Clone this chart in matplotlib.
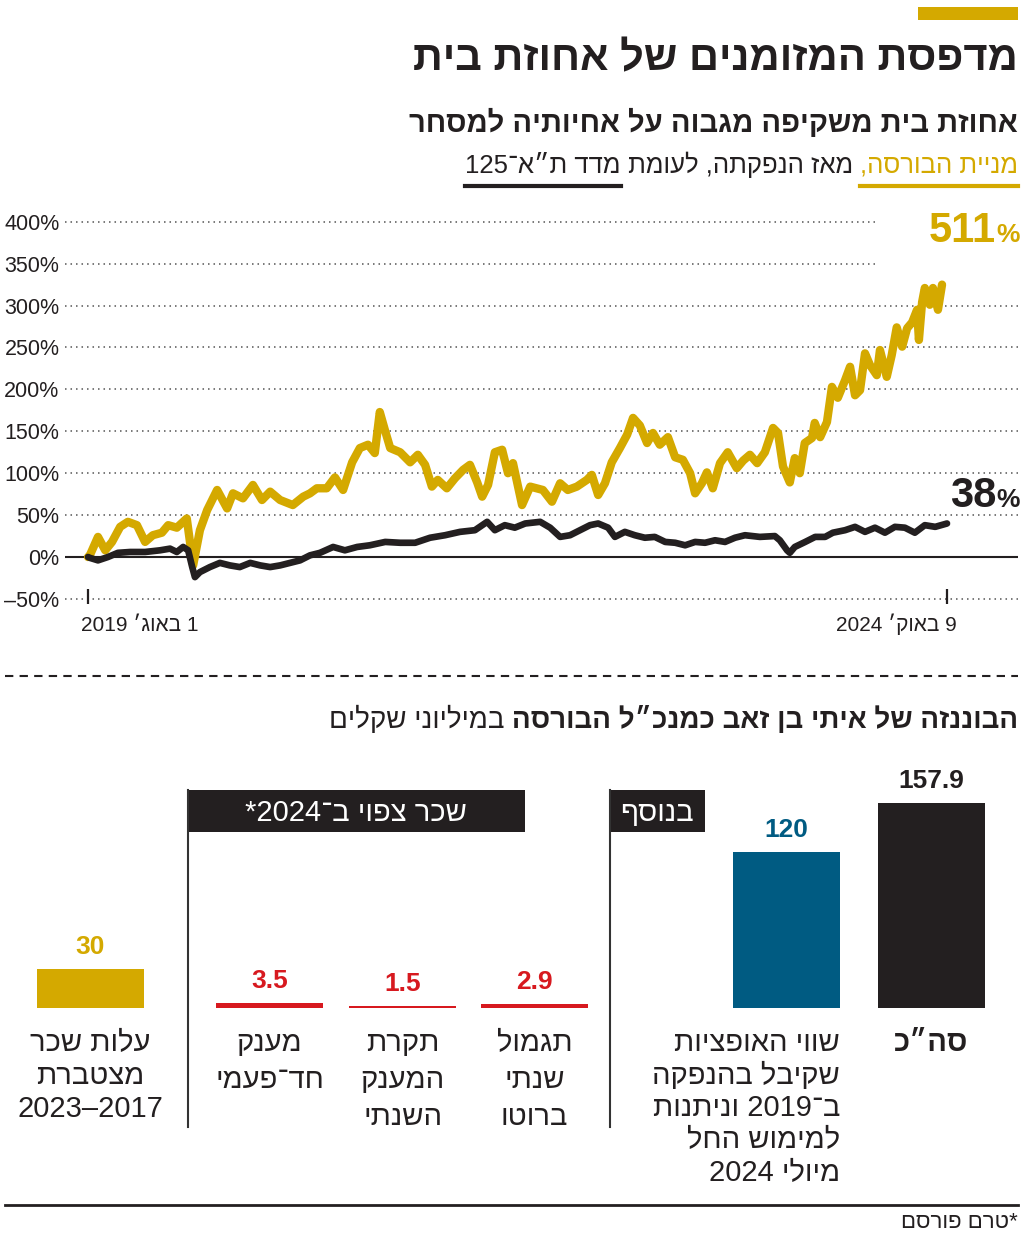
import re
import matplotlib
matplotlib.use('Agg')
import matplotlib.pyplot as plt
from matplotlib.patches import Rectangle
from matplotlib.lines import Line2D
from matplotlib.text import Annotation
from matplotlib.transforms import Affine2D

GOLD = '#D4A900'
BLUE = '#005B82'
RED = '#D7191F'
INK = '#231F20'

plt.rcParams['font.family'] = ['Liberation Sans Narrow', 'Liberation Sans', 'DejaVu Sans']

# ---- data: line chart (days since IPO on 1 Aug 2019, % change) ----
gold_days = [0, 4, 22, 38, 53, 71, 88, 108, 126, 143, 163, 177, 196, 218, 232, 247, 263, 285, 307, 320,
             342, 364, 384, 402, 424, 452, 475, 490, 505, 527, 545, 563, 583, 600, 618, 633, 644, 655, 667, 689,
             711, 728, 744, 759, 772, 792, 810, 828, 843, 859, 870, 883, 898, 914, 927, 938, 958, 976, 1004, 1024,
             1042, 1059, 1079, 1101, 1112, 1126, 1141, 1156, 1174, 1190, 1203, 1218, 1234, 1247, 1262, 1280, 1296,
             1313, 1329, 1340, 1355, 1366, 1379, 1395, 1412, 1432, 1446, 1461, 1477, 1494, 1512, 1523, 1534, 1549,
             1560, 1571, 1582, 1598, 1604, 1616, 1631, 1642, 1655, 1671, 1682, 1693, 1704, 1715, 1726, 1741, 1748,
             1763, 1774, 1785, 1797, 1808, 1819, 1830, 1834, 1841, 1847, 1858, 1865, 1876, 1885]
gold_pct = [0, 2, 24, 8, 18, 36, 42, 38, 18, 26, 29, 38, 35, 46, -10, 32, 56, 80, 58, 76,
            70, 86, 68, 78, 68, 62, 72, 76, 82, 82, 95, 80, 113, 130, 134, 124, 173, 152, 130, 125,
            113, 122, 110, 84, 92, 82, 94, 104, 110, 89, 72, 86, 125, 128, 100, 112, 62, 84, 80, 66,
            88, 80, 84, 92, 98, 74, 88, 113, 130, 146, 166, 157, 136, 148, 134, 143, 119, 116, 100, 76,
            88, 101, 82, 112, 125, 106, 115, 122, 112, 125, 154, 148, 108, 89, 118, 100, 136, 142, 160, 143,
            161, 203, 190, 211, 227, 193, 199, 243, 229, 217, 247, 215, 241, 274, 251, 273, 280, 295, 259, 304,
            321, 301, 321, 295, 325]

index_days = [0, 4, 22, 44, 66, 93, 126, 159, 181, 196, 210, 221, 230, 236, 247, 269, 291, 313, 335, 358,
              380, 402, 424, 446, 468, 490, 512, 541, 567, 594, 622, 656, 689, 722, 755, 788, 821, 854, 881, 898,
              920, 942, 965, 998, 1020, 1042, 1064, 1086, 1108, 1126, 1148, 1163, 1185, 1207, 1229, 1251, 1274,
              1296, 1318, 1340, 1362, 1384, 1406, 1428, 1450, 1483, 1516, 1527, 1543, 1549, 1560, 1583, 1605,
              1627, 1644, 1671, 1693, 1715, 1737, 1759, 1781, 1803, 1825, 1847, 1870, 1896]
index_pct = [0, -1, -4, 0, 5, 6, 6, 8, 10, 6, 12, 8, -12, -24, -18, -12, -7, -10, -12, -7,
             -10, -12, -10, -7, -4, 2, 5, 12, 8, 12, 14, 18, 17, 17, 23, 26, 30, 32, 42, 32,
             38, 35, 40, 42, 35, 24, 26, 32, 38, 40, 35, 24, 30, 26, 23, 24, 18, 17, 14, 18,
             17, 20, 18, 23, 26, 24, 25, 20, 8, 5, 12, 18, 24, 24, 29, 32, 36, 30, 35, 29,
             36, 35, 29, 38, 36, 40]

y_ticks = [-50, 0, 50, 100, 150, 200, 250, 300, 350, 400]
date_days = [0, 1896]
date_labels = ['1 באוג׳ 2019', '9 באוק׳ 2024']
end_labels = ['511', '38']

# ---- data: bars (millions of shekels) ----
bar_values = [157.9, 120, 2.9, 1.5, 3.5, 30]
bar_colors = [INK, BLUE, RED, RED, RED, GOLD]
bar_labels = [['סה״כ'],
              ['שווי האופציות', 'שקיבל בהנפקה', 'ב־2019 וניתנות', 'למימוש החל', 'מיולי 2024'],
              ['תגמול', 'שנתי', 'ברוטו'],
              ['תקרת', 'המענק', 'השנתי'],
              ['מענק', 'חד־פעמי'],
              ['עלות שכר', 'מצטברת', '2017–2023']]
bar_pos = [931.5, 786.5, 534.5, 402.5, 269.5, 90.5]


def rtl(s):
    r = s[::-1]
    return re.sub(r'\d+(?:[.,]\d+)*', lambda m: m.group(0)[::-1], r)


fig = plt.figure(figsize=(10.24, 12.36), dpi=100)
px = Affine2D().scale(1 / 1024, -1 / 1236).translate(0, 1) + fig.transFigure


def txt(x, y, s, size, color=INK, weight='normal', ha='right', va='baseline', **kw):
    return fig.text(x, y, rtl(s), transform=px, fontsize=size, color=color,
                    fontweight=weight, ha=ha, va=va, **kw)


def chain(prev, s, size, color=INK, weight='normal'):
    # text that continues to the left of a previous text (right-to-left reading)
    a = Annotation(rtl(s), xy=(0, 0), xycoords=prev, ha='right', va='bottom', fontsize=size,
                   color=color, fontweight=weight, annotation_clip=False)
    fig.add_artist(a)
    return a


def hline(x0, x1, y, **kw):
    fig.add_artist(Line2D([x0, x1], [y, y], transform=px, **kw))


# header
fig.add_artist(Rectangle((918, 7), 100, 13, transform=px, color=GOLD, lw=0))
txt(1018, 70, 'מדפסת המזומנים של אחוזת בית', 30, weight='bold')
txt(1018, 132, 'אחוזת בית משקיפה מגבוה על אחיותיה למסחר', 21, weight='bold')
t1 = txt(1018, 173, 'מניית הבורסה,', 18.5, color=GOLD)
t2 = chain(t1, ' מאז הנפקתה, לעומת ', 18.5)
t3 = chain(t2, 'מדד ת״א־125', 18.5)

# ---- line chart ----
ax = fig.add_axes([65 / 1024, 1 - 607.3 / 1236, 953 / 1024, 393.9 / 1236])
x0, x1 = -50.8, 2052.7
ax.set_xlim(x0, x1)
ax.set_ylim(-60, 410)
for v in y_ticks:
    if v == 0:
        continue
    ax.hlines(v, x0, 1737 if v >= 350 else x1, colors='#555555', linestyles=(0, (1, 2.6)), lw=1.1)
ax.hlines(0, x0, x1, colors=INK, lw=1.5)
ax.plot(gold_days, gold_pct, color=GOLD, lw=6, solid_joinstyle='round', solid_capstyle='round')
ax.plot(index_days, index_pct, color=INK, lw=4.8, solid_joinstyle='round', solid_capstyle='round')
ax.vlines(date_days, -56, -38, colors=INK, lw=1.6)
ax.set_yticks(y_ticks, labels=[f'{v}%'.replace('-', '\u2013') for v in y_ticks])
ax.set_xticks([])
ax.tick_params(axis='y', length=0, pad=4, labelsize=15.5, labelcolor=INK)
for s in ax.spines.values():
    s.set_visible(False)
ax.patch.set_alpha(0)

for d, lab, ha, dx in zip(date_days, date_labels, ['left', 'right'], [-5, 7]):
    ax.annotate(rtl(lab), xy=(d, -60), xytext=(dx, -17), textcoords='offset points',
                ha=ha, va='baseline', fontsize=15, color=INK, annotation_clip=False)

txt(996, 242, end_labels[0], 30, color=GOLD, weight='bold')
txt(996, 242, '%', 19, color=GOLD, weight='bold', ha='left')
txt(996, 507, end_labels[1], 30, color=INK, weight='bold')
txt(996, 507, '%', 19, color=INK, weight='bold', ha='left')

# ---- separator + bar section ----
hline(5, 1018, 676, color=INK, lw=1.5, linestyle=(0, (4, 3)))
s1 = txt(1018, 728, 'הבוננזה של איתי בן זאב כמנכ״ל הבורסה', 20, weight='bold')
chain(s1, ' במיליוני שקלים', 20)

fig.add_artist(Rectangle((188, 790), 337, 42, transform=px, color=INK, lw=0))
fig.add_artist(Rectangle((610, 790), 95, 42, transform=px, color=INK, lw=0))
txt(356, 821, 'שכר צפוי ב־2024*', 21, color='white', ha='center')
txt(657, 821, 'בנוסף', 21, color='white', ha='center')
fig.add_artist(Line2D([188, 188], [790, 1127], transform=px, color='#333333', lw=1.5))
fig.add_artist(Line2D([610, 610], [790, 1127], transform=px, color='#333333', lw=1.5))

bx = fig.add_axes([0, 1 - 1008 / 1236, 1, 258 / 1236])
bx.set_xlim(0, 1024)
bx.set_ylim(0, 258 / 1.3)
bx.bar(bar_pos, bar_values, width=107, color=bar_colors)
bx.axis('off')
for x, v, c in zip(bar_pos, bar_values, bar_colors):
    bx.annotate(f'{v:g}', xy=(x, v), xytext=(0, 10.8), textcoords='offset points', ha='center',
                va='baseline', fontsize=19, fontweight='bold', color=c)

# category labels
label_style = [  # x anchor, ha, line spacing, weight
    (931.5, 'center', 1.2, 'bold'),
    (840, 'right', 1.2, 'normal'),
    (534.5, 'center', 1.41, 'normal'),
    (402.5, 'center', 1.41, 'normal'),
    (269.5, 'center', 1.41, 'normal'),
    (90.5, 'center', 1.22, 'normal'),
]
for lines, (x, ha, ls, w) in zip(bar_labels, label_style):
    fig.text(x, 1029, '\n'.join(rtl(l) for l in lines), transform=px, fontsize=21, color=INK,
             fontweight=w, ha=ha, va='top', multialignment=ha, linespacing=ls)

hline(5, 1018, 1205, color=INK, lw=2)
txt(1018, 1228, '*טרם פורסם', 16)

fig.canvas.draw()
for t, c in ((t1, GOLD), (t3, INK)):
    bb = t.get_window_extent()
    hline(bb.x0, bb.x1, 186, color=c, lw=3)

fig.savefig('out.png', dpi=100)
